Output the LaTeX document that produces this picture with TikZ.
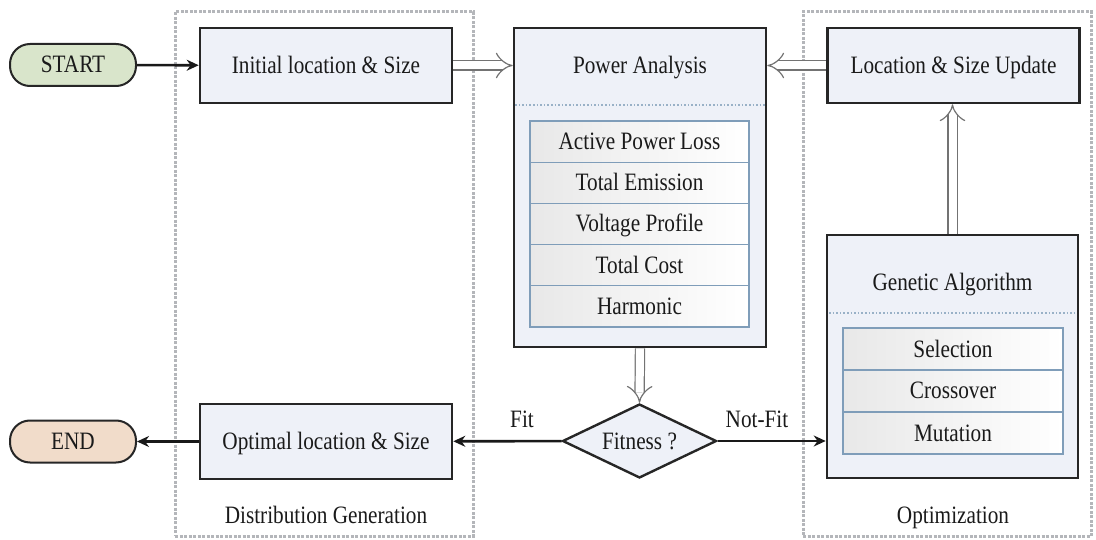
\documentclass[tikz,border=0pt]{standalone}
\usepackage{fontspec}
\setmainfont{Liberation Serif}[FakeStretch=0.85]
\usetikzlibrary{shapes.geometric,arrows.meta}
\definecolor{boxfill}{HTML}{EEF1F8}
\definecolor{startfill}{HTML}{D9E5CB}
\definecolor{endfill}{HTML}{F1DCCA}
\definecolor{cellline}{HTML}{7F9DB9}
\definecolor{grpline}{HTML}{B4B6BA}
\definecolor{txt}{HTML}{1A1A1A}
\begin{document}
\begin{tikzpicture}[x=1pt,y=-1pt,
  font=\fontsize{25}{29}\selectfont, text=txt,
  every node/.style={text height=20pt, text depth=4pt},
  box/.style={draw=black!85, line width=2.6pt, fill=boxfill, minimum width=252pt, minimum height=75pt, inner sep=0pt},
  term/.style={draw=black!85, line width=2pt, rounded corners=20pt, minimum width=126pt, minimum height=42pt, inner sep=0pt},
  cell/.style={draw=cellline, line width=1.2pt, left color=black!9, right color=white, minimum height=41.2pt, inner sep=0pt},
  grp/.style={draw=grpline, line width=3pt, dash pattern=on 3pt off 1.5pt},
  flow/.style={draw=black!90, line width=2.6pt, -{Stealth[length=12pt,width=11pt]}},
  hollow/.style={draw=black!55, line width=1.2pt, double=white, double distance=8pt, -{Implies}},
  sepline/.style={draw=cellline!80, line width=1.6pt, dotted},
]
\useasboundingbox (0,0) rectangle (1096,540);

% groups
\node[grp, minimum width=298pt, minimum height=524pt] (dg) at (324,274) {};
\node[grp, minimum width=288pt, minimum height=524pt] (og) at (947,274) {};
\node (dglabel) at (326,515) {Distribution Generation};
\node (oglabel) at (953,515) {Optimization};

% terminals and boxes
\node[term, fill=startfill] (start) at (73,65) {START};
\node[box] (init) at (326,65.5) {Initial location \& Size};

\node[box, minimum height=319pt] (pa) at (640,187.5) {};
\node (patitle) at (640,66) {Power Analysis};
\draw[sepline] (515,105) -- (765,105);
\node[cell, minimum width=219pt] (c1) at (639.5,141.6) {Active Power Loss};
\node[cell, minimum width=219pt] (c2) at (639.5,182.8) {Total Emission};
\node[cell, minimum width=219pt] (c3) at (639.5,224.0) {Voltage Profile};
\node[cell, minimum width=219pt] (c4) at (639.5,265.2) {Total Cost};
\node[cell, minimum width=219pt] (c5) at (639.5,306.4) {Harmonic};

\node[box] (upd) at (953.5,65.5) {Location \& Size Update};

\node[box, minimum width=251pt, minimum height=243pt] (ga) at (952.5,356.5) {};
\node (gatitle) at (952.5,283) {Genetic Algorithm};
\draw[sepline] (829,313) -- (1076,313);
\node[cell, minimum width=220pt, minimum height=42pt] (g1) at (953,349) {Selection};
\node[cell, minimum width=220pt, minimum height=42pt] (g2) at (953,391) {Crossover};
\node[cell, minimum width=220pt, minimum height=42pt] (g3) at (953,433) {Mutation};

\node[diamond, draw=black!85, line width=2.4pt, fill=boxfill, minimum width=154pt, minimum height=74pt, inner sep=0pt, aspect=2.08] (fit) at (639.5,441) {Fitness ?};

\node[box] (opt) at (326,441.5) {Optimal location \& Size};
\node[term, fill=endfill] (end) at (73,441.5) {END};

\node (fitlbl) at (522,419) {Fit};
\node (nflbl) at (757,419) {Not-Fit};

% connectors
\draw[flow] (start) -- (init);
\draw[flow] (opt) -- (end);
\draw[flow] (fit) -- (opt);
\draw[flow] (fit) -- (ga.west |- fit);
\draw[hollow] (init) -- (pa.west |- init);
\draw[hollow] (upd) -- (pa.east |- upd);
\draw[hollow] (ga.north) -- (ga.north |- upd.south);
\draw[hollow] (pa.south) -- (fit.north);
\end{tikzpicture}
\end{document}
